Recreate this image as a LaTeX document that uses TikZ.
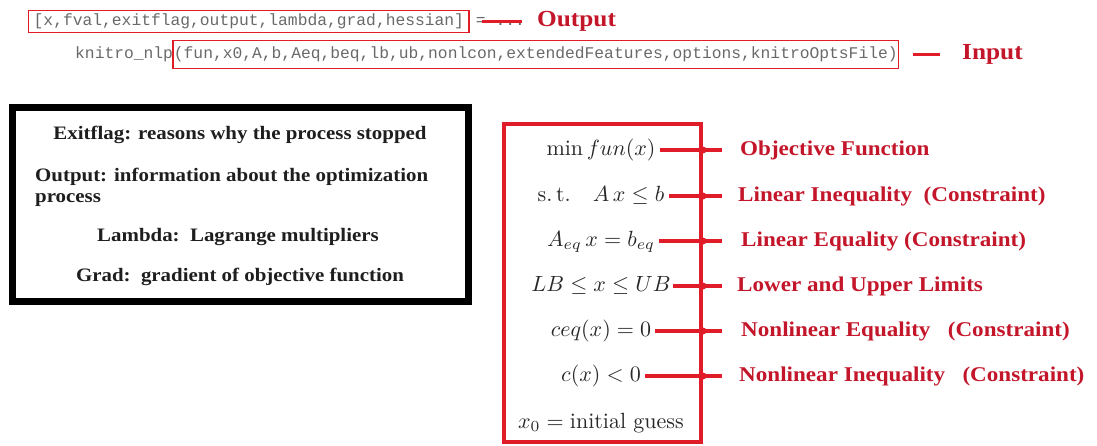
\documentclass[tikz,border=0pt]{standalone}
\usepackage{amsmath}
\usepackage{amssymb}
\usepackage{graphicx}
\usepackage{xcolor}
\usepackage{fontspec}
\usetikzlibrary{positioning}

\newfontfamily\codefont{Liberation Mono}
\newfontfamily\labelfont[FakeStretch=1.1]{Liberation Serif}
\newcommand{\bigmath}[1]{\scalebox{2.2}{$#1$}}

\definecolor{redline}{RGB}{224,28,40}
\definecolor{redtext}{RGB}{196,22,42}
\definecolor{codegray}{RGB}{105,105,105}
\definecolor{mathgray}{RGB}{40,40,40}
\definecolor{boxtext}{RGB}{30,30,30}

\begin{document}
\begin{tikzpicture}[x=1pt,y=-1pt,
		code/.style={font=\codefont\fontsize{16.3}{18}\selectfont,text=codegray,inner ysep=0pt,text height=11pt,text depth=3pt},
		callbox/.style={code,draw=redline,line width=1.4pt},
		tag/.style={font=\labelfont\bfseries\fontsize{23}{26}\selectfont,text=redtext,inner sep=0pt},
		note/.style={font=\labelfont\bfseries\fontsize{19}{21}\selectfont,text=boxtext,inner sep=0pt},
		cons/.style={text=mathgray,inner sep=4pt,text height=16pt,text depth=6pt},
		what/.style={font=\labelfont\bfseries\fontsize{21}{24}\selectfont,text=redtext,inner sep=0pt,anchor=west,text height=15pt,text depth=5pt},
		tick/.style={draw=redline,line width=4pt}]
	\useasboundingbox (0,0) rectangle (1097,445);
	% call line
	\node[callbox,anchor=west,inner xsep=5pt,minimum height=22pt] (outbox) at (28,21.5) {[x,fval,exitflag,output,lambda,grad,hessian]};
	\node[code,inner xsep=0pt,right=6pt of outbox] (outeq) {= ...};
	\node[tag,anchor=west] (outlbl) at (537,21.5) {Output};
	\node[code,inner xsep=0pt,anchor=west] (incall) at (75,54.5) {knitro\_nlp};
	\node[callbox,inner xsep=1pt,minimum height=28pt,right=-1pt of incall] (inbox) {(fun,x0,A,b,Aeq,beq,lb,ub,nonlcon,extendedFeatures,options,knitroOptsFile)};
	\node[tag,anchor=west] (inlbl) at (962,54.5) {Input};
	\draw[redline,line width=3pt] ([xshift=12pt]outbox.east) -- ([xshift=-15pt]outlbl.west);
	\draw[redline,line width=3pt] ([xshift=14pt]inbox.east) -- ([xshift=-22pt]inlbl.west);
	%
	% returned values
	\node[draw=black,line width=7pt,minimum width=456pt,minimum height=194pt] (infobox) at (240,204) {};
	\node[note] (e1) at (240,135) {Exitflag: reasons why the process stopped};
	\node[note,align=left,anchor=west] (e2) at (35,187) {Output: information about the optimization\\process};
	\node[note] (e3) at (238,237) {Lambda:\ \ Lagrange multipliers};
	\node[note] (e4) at (240,277) {Grad:\ \ gradient of objective function};
	%
	% problem
	\node[draw=redline,line width=4pt,minimum width=197pt,minimum height=318pt,inner sep=0pt] (cbox) at (602.5,283) {};
	\node[cons] (m1) at (601,150) {\bigmath{\min fun(x)}};
	\node[cons] (m2) at (601,196) {\bigmath{\text{s.\,t.}\quad A\,x\le b}};
	\node[cons] (m3) at (601,241) {\bigmath{A_{eq}\,x=b_{eq}}};
	\node[cons,inner sep=2pt] (m4) at (601,286) {\bigmath{LB\le x\le UB}};
	\node[cons] (m5) at (601,331) {\bigmath{ceq(x)=0}};
	\node[cons] (m6) at (601,376) {\bigmath{c(x)<0}};
	\node[cons] (m7) at (601,423) {\bigmath{x_0=\text{initial guess}}};
	\node[what] (l1) at (740,150) {Objective Function};
	\node[what] (l2) at (738,196) {Linear Inequality\ \ (Constraint)};
	\node[what] (l3) at (741,241) {Linear Equality (Constraint)};
	\node[what] (l4) at (737,286) {Lower and Upper Limits};
	\node[what] (l5) at (741,331) {Nonlinear Equality\ \ \ (Constraint)};
	\node[what] (l6) at (739,376) {Nonlinear Inequality\ \ \ (Constraint)};
	\draw[tick,shorten >=18pt] (m1.east) -- (m1.east -| l1.west);
	\draw[tick,shorten >=16pt] (m2.east) -- (m2.east -| l2.west);
	\draw[tick,shorten >=19pt] (m3.east) -- (m3.east -| l3.west);
	\draw[tick,shorten >=15pt] (m4.east) -- (m4.east -| l4.west);
	\draw[tick,shorten >=19pt] (m5.east) -- (m5.east -| l5.west);
	\draw[tick,shorten >=17pt] (m6.east) -- (m6.east -| l6.west);
	\fill[redline] (m1.east -| cbox.east) circle (3.5pt) (m2.east -| cbox.east) circle (3.5pt)
		(m3.east -| cbox.east) circle (3.5pt) (m4.east -| cbox.east) circle (3.5pt)
		(m5.east -| cbox.east) circle (3.5pt) (m6.east -| cbox.east) circle (3.5pt);
\end{tikzpicture}
\end{document}
